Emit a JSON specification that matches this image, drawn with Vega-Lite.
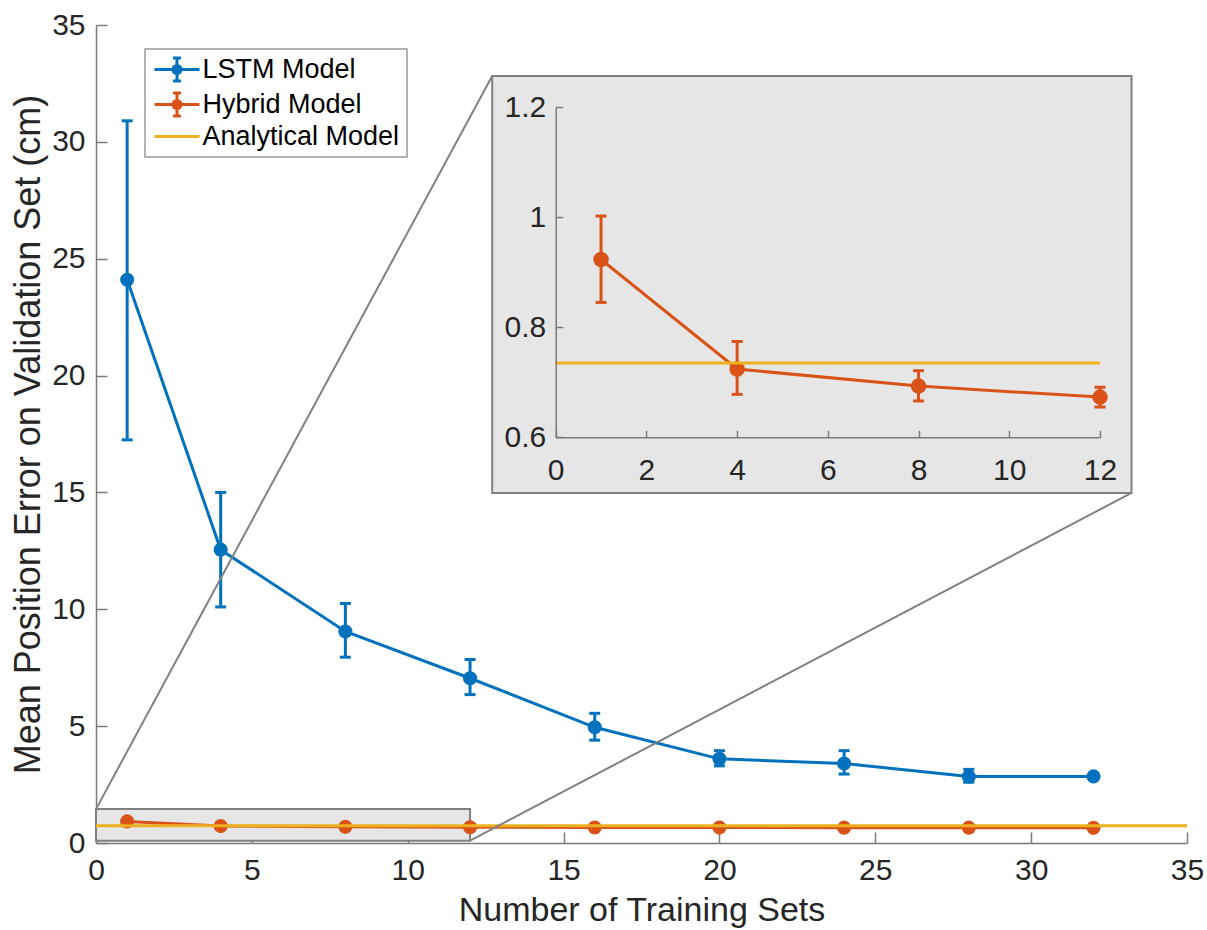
{
  "$schema": "https://vega.github.io/schema/vega-lite/v6.json",
  "width": 1091,
  "height": 818,
  "autosize": {"type": "none"},
  "padding": {"left": 96, "top": 25, "right": 20, "bottom": 87},
  "background": "white",
  "config": {
    "view": {"stroke": null},
    "font": "Liberation Sans",
    "axis": {
      "grid": false,
      "domainColor": "#7a7a7a",
      "domainWidth": 1.5,
      "tickColor": "#7a7a7a",
      "tickWidth": 1.5,
      "labelColor": "#262626",
      "titleColor": "#262626",
      "labelFont": "Liberation Sans",
      "titleFont": "Liberation Sans",
      "titleFontWeight": "normal",
      "labelFontSize": 30
    }
  },
  "datasets": {
    "d": [
      {"series": "LSTM Model", "x": 1, "y": 24.1, "lo": 17.25, "hi": 30.9},
      {"series": "LSTM Model", "x": 4, "y": 12.55, "lo": 10.1, "hi": 15.0},
      {"series": "LSTM Model", "x": 8, "y": 9.05, "lo": 7.95, "hi": 10.25},
      {"series": "LSTM Model", "x": 12, "y": 7.05, "lo": 6.35, "hi": 7.85},
      {"series": "LSTM Model", "x": 16, "y": 4.95, "lo": 4.4, "hi": 5.55},
      {"series": "LSTM Model", "x": 20, "y": 3.6, "lo": 3.3, "hi": 3.95},
      {"series": "LSTM Model", "x": 24, "y": 3.4, "lo": 2.95, "hi": 3.95},
      {"series": "LSTM Model", "x": 28, "y": 2.85, "lo": 2.6, "hi": 3.15},
      {"series": "LSTM Model", "x": 32, "y": 2.85, "lo": null, "hi": null},
      {"series": "Hybrid Model", "x": 1, "y": 0.923, "lo": 0.845, "hi": 1.002},
      {"series": "Hybrid Model", "x": 4, "y": 0.724, "lo": 0.678, "hi": 0.774},
      {"series": "Hybrid Model", "x": 8, "y": 0.693, "lo": 0.666, "hi": 0.721},
      {"series": "Hybrid Model", "x": 12, "y": 0.673, "lo": 0.655, "hi": 0.691},
      {"series": "Hybrid Model", "x": 16, "y": 0.665, "lo": 0.65, "hi": 0.68},
      {"series": "Hybrid Model", "x": 20, "y": 0.66, "lo": 0.645, "hi": 0.675},
      {"series": "Hybrid Model", "x": 24, "y": 0.655, "lo": 0.64, "hi": 0.67},
      {"series": "Hybrid Model", "x": 28, "y": 0.655, "lo": 0.64, "hi": 0.67},
      {"series": "Hybrid Model", "x": 32, "y": 0.65, "lo": 0.635, "hi": 0.665},
      {"series": "Analytical Model", "x": 0, "y": 0.735, "lo": null, "hi": null},
      {"series": "Analytical Model", "x": 35, "y": 0.735, "lo": null, "hi": null}
    ]
  },
  "data": {"name": "d"},
  "layer": [
    {
      "layer": [
        {
          "data": {"values": [{}]},
          "mark": {"type": "rect", "fill": "#e6e6e6", "stroke": "#808080", "strokeWidth": 2},
          "encoding": {
            "x": {"datum": 0, "type": "quantitative",
              "scale": {"domain": [0, 35], "nice": false, "zero": false},
              "axis": {"title": "Number of Training Sets", "titleFontSize": 34, "values": [0, 5, 10, 15, 20, 25, 30, 35], "tickSize": -11, "labelPadding": 23, "titlePadding": 8, "labelFlush": false}},
            "x2": {"datum": 12},
            "y": {"datum": 0.1, "type": "quantitative",
              "scale": {"domain": [0, 35], "nice": false, "zero": false},
              "axis": {"title": "Mean Position Error on Validation Set (cm)", "titleFontSize": 36, "values": [0, 5, 10, 15, 20, 25, 30, 35], "tickSize": -11, "labelPadding": 22, "titlePadding": 4, "labelFlush": false}},
            "y2": {"datum": 1.45}
          }
        },
        {
          "transform": [{"filter": "datum.series !== 'Analytical Model' && isValid(datum.lo)"}],
          "mark": {"type": "rule", "strokeWidth": 3},
          "encoding": {
            "x": {"field": "x", "type": "quantitative"},
            "y": {"field": "lo", "type": "quantitative"},
            "y2": {"field": "hi"},
            "color": {"field": "series", "type": "nominal"}
          }
        },
        {
          "transform": [{"filter": "datum.series !== 'Analytical Model' && isValid(datum.lo)"}],
          "mark": {"type": "tick", "orient": "horizontal", "size": 11, "thickness": 3, "opacity": 1},
          "encoding": {
            "x": {"field": "x", "type": "quantitative"},
            "y": {"field": "lo", "type": "quantitative"},
            "color": {"field": "series", "type": "nominal"}
          }
        },
        {
          "transform": [{"filter": "datum.series !== 'Analytical Model' && isValid(datum.hi)"}],
          "mark": {"type": "tick", "orient": "horizontal", "size": 11, "thickness": 3, "opacity": 1},
          "encoding": {
            "x": {"field": "x", "type": "quantitative"},
            "y": {"field": "hi", "type": "quantitative"},
            "color": {"field": "series", "type": "nominal"}
          }
        },
        {
          "transform": [{"filter": "datum.series !== 'Analytical Model'"}],
          "mark": {"type": "line", "strokeWidth": 3},
          "encoding": {
            "x": {"field": "x", "type": "quantitative"},
            "y": {"field": "y", "type": "quantitative"},
            "color": {
              "field": "series", "type": "nominal",
              "scale": {"domain": ["LSTM Model", "Hybrid Model", "Analytical Model"], "range": ["#0072BD", "#D95319", "#EDB120"]},
              "legend": {
                "orient": "none", "legendX": 49, "legendY": 24, "title": null,
                "symbolSize": 484, "symbolOffset": 11.5, "labelFontSize": 27, "labelFont": "Liberation Sans", "labelColor": "#000000",
                "labelOffset": 12, "labelLimit": 400, "padding": 7, "rowPadding": 0,
                "strokeColor": "#9a9a9a", "fillColor": "#ffffff",
                "symbolStrokeWidth": 3,
                "encode": {
                  "legend": {"update": {"strokeWidth": {"value": 1.5}}},
                  "symbols": {"update": {
                    "shape": {"signal": "datum.value === 'Analytical Model' ? 'M-2.045,0H2.045' : 'M-2.045,0H2.045M0,-1.045V1.045M-0.36,-1.045H0.36M-0.36,1.045H0.36M-0.364,0A0.364,0.364 0 1,0 0.364,0A0.364,0.364 0 1,0 -0.364,0Z'"},
                    "fill": {"signal": "datum.value === 'LSTM Model' ? '#0072BD' : datum.value === 'Hybrid Model' ? '#D95319' : 'transparent'"},
                    "stroke": {"signal": "datum.value === 'LSTM Model' ? '#0072BD' : datum.value === 'Hybrid Model' ? '#D95319' : '#EDB120'"},
                    "strokeWidth": {"value": 3},
                    "opacity": {"value": 1}
                  }}
                }
              }
            }
          }
        },
        {
          "transform": [{"filter": "datum.series !== 'Analytical Model'"}],
          "mark": {"type": "point", "filled": true, "shape": "circle", "size": 200, "opacity": 1},
          "encoding": {
            "x": {"field": "x", "type": "quantitative"},
            "y": {"field": "y", "type": "quantitative"},
            "color": {"field": "series", "type": "nominal"}
          }
        },
        {
          "transform": [{"filter": "datum.series === 'Analytical Model'"}],
          "mark": {"type": "line", "strokeWidth": 3},
          "encoding": {
            "x": {"field": "x", "type": "quantitative"},
            "y": {"field": "y", "type": "quantitative"},
            "color": {"field": "series", "type": "nominal"}
          }
        },
        {
          "data": {"values": [{}]},
          "mark": {"type": "rule", "stroke": "#808080", "strokeWidth": 2},
          "encoding": {
            "x": {"datum": 0, "type": "quantitative"},
            "y": {"datum": 1.45, "type": "quantitative"},
            "x2": {"datum": 12.71},
            "y2": {"datum": 32.82}
          }
        },
        {
          "data": {"values": [{}]},
          "mark": {"type": "rule", "stroke": "#808080", "strokeWidth": 2},
          "encoding": {
            "x": {"datum": 12, "type": "quantitative"},
            "y": {"datum": 0.1, "type": "quantitative"},
            "x2": {"datum": 33.22},
            "y2": {"datum": 14.98}
          }
        },
        {
          "data": {"values": [{}]},
          "mark": {"type": "rect", "fill": "#e6e6e6", "stroke": "#808080", "strokeWidth": 2},
          "encoding": {
            "x": {"datum": 12.71, "type": "quantitative"},
            "x2": {"datum": 33.22},
            "y": {"datum": 14.98, "type": "quantitative"},
            "y2": {"datum": 32.82}
          }
        }
      ]
    },
    {
      "transform": [{"filter": "datum.x <= 12"}],
      "layer": [
        {
          "transform": [{"filter": "datum.series === 'Hybrid Model'"}],
          "mark": {"type": "rule", "strokeWidth": 3, "color": "#D95319"},
          "encoding": {
            "x": {"field": "x", "type": "quantitative",
              "scale": {"domain": [0, 12], "range": [459.7, 1004], "nice": false, "zero": false},
              "axis": {"orient": "bottom", "offset": -405.7, "title": null, "values": [0, 2, 4, 6, 8, 10, 12], "format": "~g", "tickSize": -7, "labelPadding": 25, "labelFlush": false, "zindex": 1}},
            "y": {"field": "lo", "type": "quantitative",
              "scale": {"domain": [0.6, 1.2], "range": [412.3, 82], "nice": false, "zero": false},
              "axis": {"orient": "left", "offset": -459.7, "title": null, "values": [0.6, 0.8, 1, 1.2], "format": "~g", "tickSize": -7, "labelPadding": 17, "labelFlush": false, "zindex": 1}},
            "y2": {"field": "hi"}
          }
        },
        {
          "transform": [{"filter": "datum.series === 'Hybrid Model'"}],
          "mark": {"type": "tick", "orient": "horizontal", "size": 11, "thickness": 3, "color": "#D95319", "opacity": 1},
          "encoding": {
            "x": {"field": "x", "type": "quantitative"},
            "y": {"field": "lo", "type": "quantitative"}
          }
        },
        {
          "transform": [{"filter": "datum.series === 'Hybrid Model'"}],
          "mark": {"type": "tick", "orient": "horizontal", "size": 11, "thickness": 3, "color": "#D95319", "opacity": 1},
          "encoding": {
            "x": {"field": "x", "type": "quantitative"},
            "y": {"field": "hi", "type": "quantitative"}
          }
        },
        {
          "transform": [{"filter": "datum.series === 'Hybrid Model'"}],
          "mark": {"type": "line", "strokeWidth": 3, "color": "#D95319"},
          "encoding": {
            "x": {"field": "x", "type": "quantitative"},
            "y": {"field": "y", "type": "quantitative"}
          }
        },
        {
          "transform": [{"filter": "datum.series === 'Hybrid Model'"}],
          "mark": {"type": "point", "filled": true, "shape": "circle", "size": 240, "opacity": 1, "color": "#D95319"},
          "encoding": {
            "x": {"field": "x", "type": "quantitative"},
            "y": {"field": "y", "type": "quantitative"}
          }
        },
        {
          "transform": [{"filter": "datum.series === 'Analytical Model'"}],
          "mark": {"type": "rule", "strokeWidth": 3, "color": "#EDB120"},
          "encoding": {
            "x": {"datum": 0, "type": "quantitative"},
            "x2": {"datum": 12},
            "y": {"field": "y", "type": "quantitative"}
          }
        }
      ]
    }
  ],
  "resolve": {"scale": {"x": "independent", "y": "independent"}, "axis": {"x": "independent", "y": "independent"}}
}
